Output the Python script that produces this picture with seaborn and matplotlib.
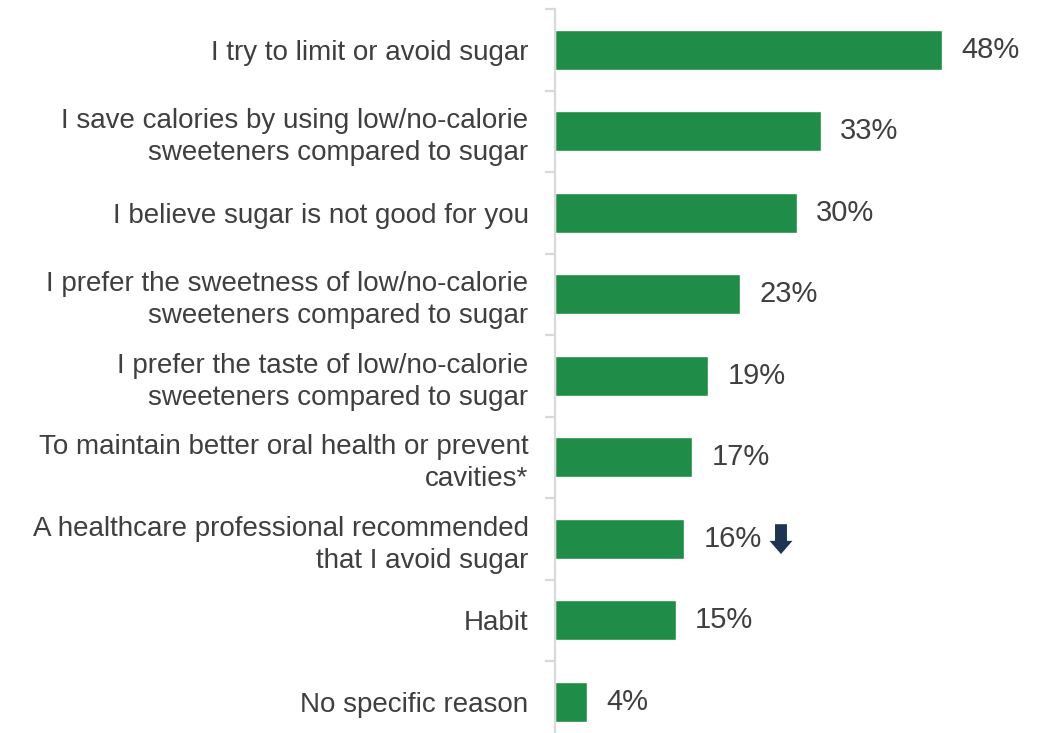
import seaborn as sns
import matplotlib.pyplot as plt
from matplotlib.text import OffsetFrom
import pandas as pd
import numpy as np

reasons = [
    "I try to limit or avoid sugar",
    "I save calories by using low/no-calorie\nsweeteners compared to sugar",
    "I believe sugar is not good for you",
    "I prefer the sweetness of low/no-calorie\nsweeteners compared to sugar",
    "I prefer the taste of low/no-calorie\nsweeteners compared to sugar",
    "To maintain better oral health or prevent\ncavities*",
    "A healthcare professional recommended\nthat I avoid sugar",
    "Habit",
    "No specific reason",
]
percent = [48, 33, 30, 23, 19, 17, 16, 15, 4]
down_flag = [False, False, False, False, False, False, True, False, False]

green = "#1F8D47"
text_col = "#3F3F3F"
grid_col = "#D9D9D9"
arrow_col = "#1F3450"

df = pd.DataFrame({"reason": reasons, "pct": percent})

sns.set_theme(style="white")
plt.rcParams["font.family"] = ["Liberation Sans", "DejaVu Sans"]

fig = plt.figure(figsize=(10.42, 7.33), dpi=100)
ax = fig.add_axes([0.5326, -0.0130, 0.4252, 1.0007])

sns.barplot(data=df, x="pct", y="reason", orient="h", color=green,
            saturation=1, width=0.49, ax=ax)

ax.set_xlim(0, 55)
ax.set_ylim(len(reasons) - 0.5, -0.5)
ax.set_xlabel("")
ax.set_ylabel("")
ax.set_xticks([])

for s in ["top", "right", "bottom"]:
    ax.spines[s].set_visible(False)
ax.spines["left"].set_color(grid_col)
ax.spines["left"].set_linewidth(1.6)

ax.set_yticks(np.arange(len(reasons)))
ax.set_yticklabels(reasons, fontsize=20, color=text_col, linespacing=1.3)
ax.tick_params(axis="y", which="major", left=False, length=0, pad=19)
ax.set_yticks(np.arange(len(reasons) + 1) - 0.5, minor=True)
ax.tick_params(axis="y", which="minor", left=True, length=7, width=1.6,
               color=grid_col, direction="out")

for i, (v, flag) in enumerate(zip(percent, down_flag)):
    t = ax.annotate(f"{v}%", xy=(v, i), xytext=(14, 0), textcoords="offset points",
                    ha="left", va="center", fontsize=21, color=text_col)
    if flag:
        ref = OffsetFrom(t, (1, 0.5))
        ax.annotate("", xy=(14, -11), xycoords=ref,
                    xytext=(14, 10.5), textcoords=ref,
                    arrowprops=dict(arrowstyle="simple,head_width=16.5,head_length=9.5,tail_width=8.6",
                                    mutation_scale=1, color=arrow_col,
                                    shrinkA=0, shrinkB=0, lw=0),
                    annotation_clip=False)

fig.savefig("out.png", dpi=100)
